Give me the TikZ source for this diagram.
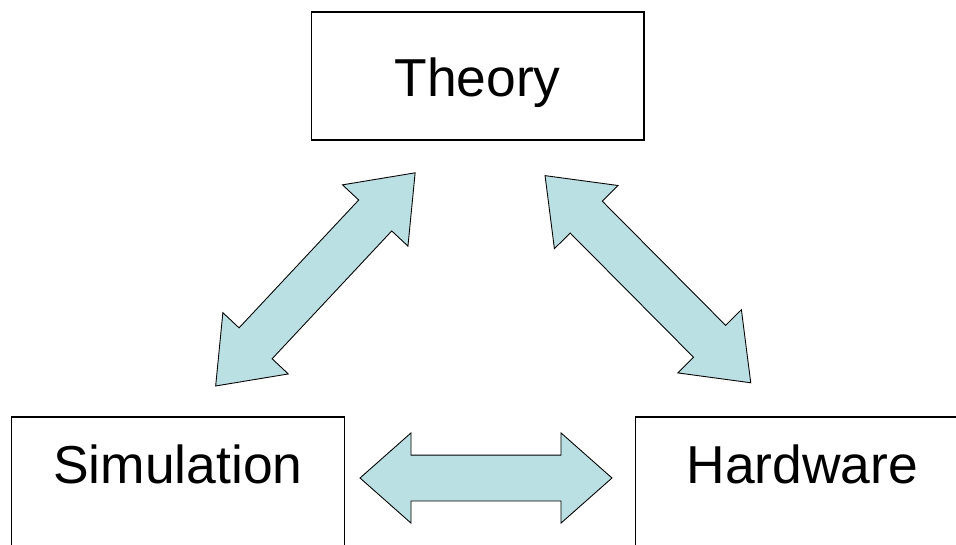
\documentclass[tikz,border=0pt]{standalone}
\usepackage{fontspec}
\setmainfont{Liberation Sans}
\usetikzlibrary{shapes.arrows, positioning}
\definecolor{arrowblue}{HTML}{BBE0E3}

\begin{document}
\begin{tikzpicture}[
    x=0.02cm, y=-0.02cm,
    block/.style={rectangle, draw, line width=0.6pt, minimum width=6.66cm, minimum height=2.56cm, inner sep=0pt, font=\fontsize{30.4}{36}\selectfont, text height=1.128cm, text depth=0.3cm},
    lowblock/.style={block, minimum height=2.66cm, text height=0.8cm, text depth=0.8cm},
    bigarrow/.style={double arrow, draw, fill=arrowblue, line width=0.5pt, inner xsep=0pt, inner ysep=0.45cm, double arrow head extend=0.444cm}
]
    \useasboundingbox (0,0) rectangle (956,544);
    \node[block] (theory) at (477.5,76) {Theory};
    \node[lowblock] (simulation) at (178,483.5) {Simulation};
    \node[lowblock] (hardware) at (802.2,483.5) {Hardware};
    
    \node[bigarrow, minimum height=5.84cm, double arrow tip angle=75, inner ysep=0.444cm, rotate=46.9] (simtheory) at (315.4,279.4) {};
    \node[bigarrow, minimum height=5.84cm, double arrow tip angle=75, inner ysep=0.444cm, rotate=-45.2] (theoryhw) at (647.9,279.2) {};
    \node[bigarrow, minimum height=5.04cm, double arrow tip angle=83] (simhw) at (486,478) {};
\end{tikzpicture}
\end{document}
